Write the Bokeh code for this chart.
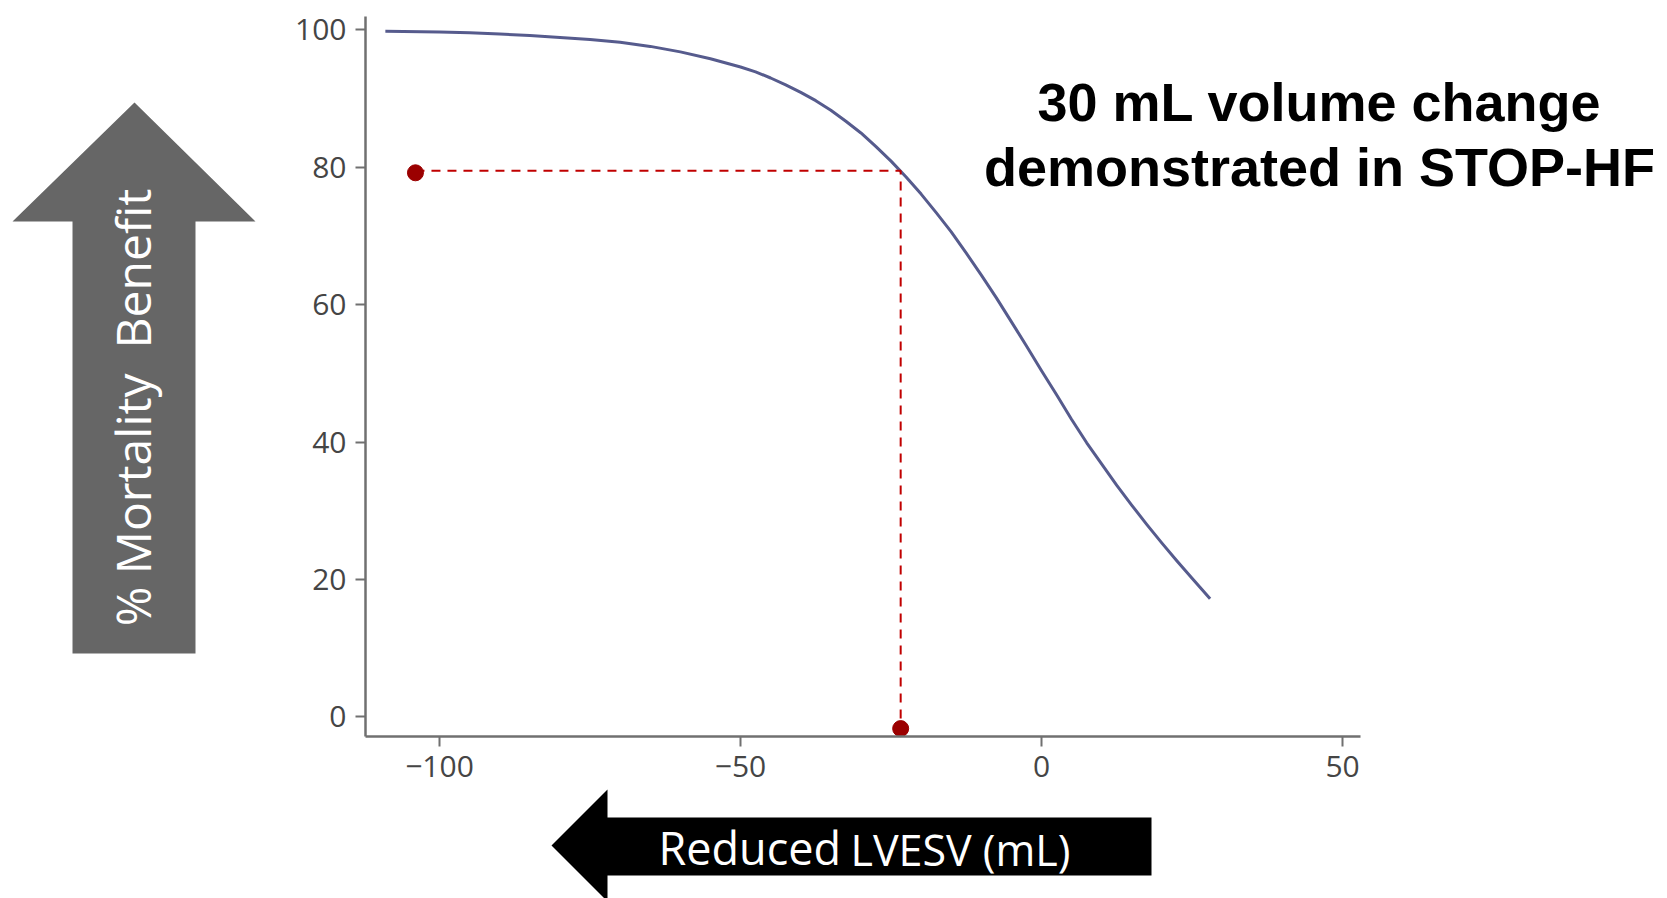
import math

from bokeh.embed import file_html
from bokeh.models import CustomJSTickFormatter, FixedTicker, Label, PolyAnnotation, Range1d
from bokeh.plotting import figure
from bokeh.resources import INLINE

# Change in LVESV (mL) against % mortality benefit along the fitted curve
lvesv_change = [-109, -100, -95, -90, -85, -80, -75, -70, -65, -60, -55, -50, -47.5, -45,
                -42.5, -40, -37.5, -35, -32.5, -30, -27.5, -25, -22.5, -20, -17.5, -15,
                -12.5, -10, -7.5, -5, -2.5, 0, 2.5, 5, 7.5, 10, 12.5, 15, 17.5, 20, 22.5,
                25, 28]
mortality_benefit = [99.8, 99.7, 99.6, 99.4, 99.2, 98.9, 98.6, 98.2, 97.6, 96.8, 95.8, 94.6,
                     93.9, 93.0, 92.0, 90.9, 89.7, 88.3, 86.7, 85.0, 83.0, 80.9, 78.6, 76.1,
                     73.4, 70.6, 67.5, 64.3, 61.0, 57.5, 54.0, 50.4, 46.9, 43.3, 39.9, 36.8,
                     33.7, 30.8, 28.0, 25.3, 22.7, 20.2, 17.2]

# STOP-HF reference: volume change and the benefit
ref_lvesv = -23.4
ref_benefit = 79.5
marker_x = [-104.0, -23.4]
marker_y = [79.2, -1.7]

x_ticks = [-100, -50, 0, 50]
y_ticks = [0, 20, 40, 60, 80, 100]

title_lines = ["30 mL volume change", "demonstrated in STOP-HF"]
# non-breaking space keeps the wide gap from collapsing in SVG text
y_arrow_text = "% Mortality\u00a0 Benefit"
x_arrow_words = ["Reduced", "LVESV (mL)"]

# axis extents
AX_X0, AX_X1 = -112.3, 53
AX_Y0, AX_Y1 = -2.85, 102

W, H = 1667, 898
# the plotting frame fills the whole canvas; axes sit at fixed data locations
p = figure(width=W, height=H, output_backend="svg", toolbar_location=None,
           x_range=Range1d(-172.93, 103.98), y_range=Range1d(-26.43, 104.28),
           min_border=0)
p.outline_line_color = None
p.grid.visible = False
p.background_fill_color = "white"
p.border_fill_color = "white"

p.xaxis.fixed_location = AX_Y0
p.yaxis.fixed_location = AX_X0
p.xaxis.bounds = (AX_X0, AX_X1)
p.yaxis.bounds = (AX_Y0, AX_Y1)
p.xaxis.ticker = FixedTicker(ticks=x_ticks)
p.yaxis.ticker = FixedTicker(ticks=y_ticks)
p.xaxis.formatter = CustomJSTickFormatter(
    code="return tick < 0 ? '\u2212' + Math.abs(tick) : String(tick);")
for ax in (p.xaxis[0], p.yaxis[0]):
    ax.axis_line_color = "#707070"
    ax.axis_line_width = 2.5
    ax.major_tick_line_color = "#707070"
    ax.major_tick_line_width = 2
    ax.major_tick_out = 10
    ax.major_tick_in = 0
    ax.minor_tick_line_color = None
    ax.major_label_text_font = "Open Sans"
    ax.major_label_text_font_size = "30px"
    ax.major_label_text_color = "#454545"
    ax.major_label_standoff = 9

# curve
p.line(lvesv_change, mortality_benefit, line_color="#565b8d", line_width=3, line_join="round")

# dashed guide lines to the reference point
p.line([marker_x[0], ref_lvesv, ref_lvesv], [ref_benefit, ref_benefit, marker_y[1]],
       line_color="#c00000", line_width=2, line_dash="9 7")
p.scatter(marker_x, marker_y, size=16, fill_color="#9b0000", line_color="#9b0000")


# screen units count from the lower-left corner of the canvas
def sy(v):
    return H - v


# vertical arrow, pointing up
ya_x = [134, 255, 195, 195, 72, 72, 12]
ya_y = [102, 221, 221, 653, 653, 221, 221]
p.add_layout(PolyAnnotation(xs=ya_x, ys=[sy(v) for v in ya_y],
                            xs_units="screen", ys_units="screen",
                            fill_color="#666666", fill_alpha=1, line_color=None))

# horizontal arrow, pointing left
xa_x = [551, 607, 607, 1151, 1151, 607, 607]
xa_y = [845, 789, 817, 817, 875, 875, 901]
p.add_layout(PolyAnnotation(xs=xa_x, ys=[sy(v) for v in xa_y],
                            xs_units="screen", ys_units="screen",
                            fill_color="#000000", fill_alpha=1, line_color=None))

p.add_layout(Label(x=132, y=sy(407), x_units="screen", y_units="screen",
                   text=y_arrow_text, angle=math.pi / 2, text_align="center",
                   text_baseline="middle", text_font="Open Sans",
                   text_font_size="48px", text_color="white"))

p.add_layout(Label(x=658, y=sy(847), x_units="screen", y_units="screen",
                   text=x_arrow_words[0], text_align="left", text_baseline="middle",
                   text_font="Open Sans", text_font_size="45px", text_color="white"))
p.add_layout(Label(x=850, y=sy(849), x_units="screen", y_units="screen",
                   text=x_arrow_words[1], text_align="left", text_baseline="middle",
                   text_font="Open Sans", text_font_size="43px", text_color="white"))

for line, mid in zip(title_lines, [101, 166]):
    p.add_layout(Label(x=1319, y=sy(mid), x_units="screen", y_units="screen",
                       text=line, text_align="center", text_baseline="middle",
                       text_font="Liberation Sans", text_font_style="bold",
                       text_font_size="54px", text_color="black"))

open("out.html", "w").write(file_html(p, INLINE))
